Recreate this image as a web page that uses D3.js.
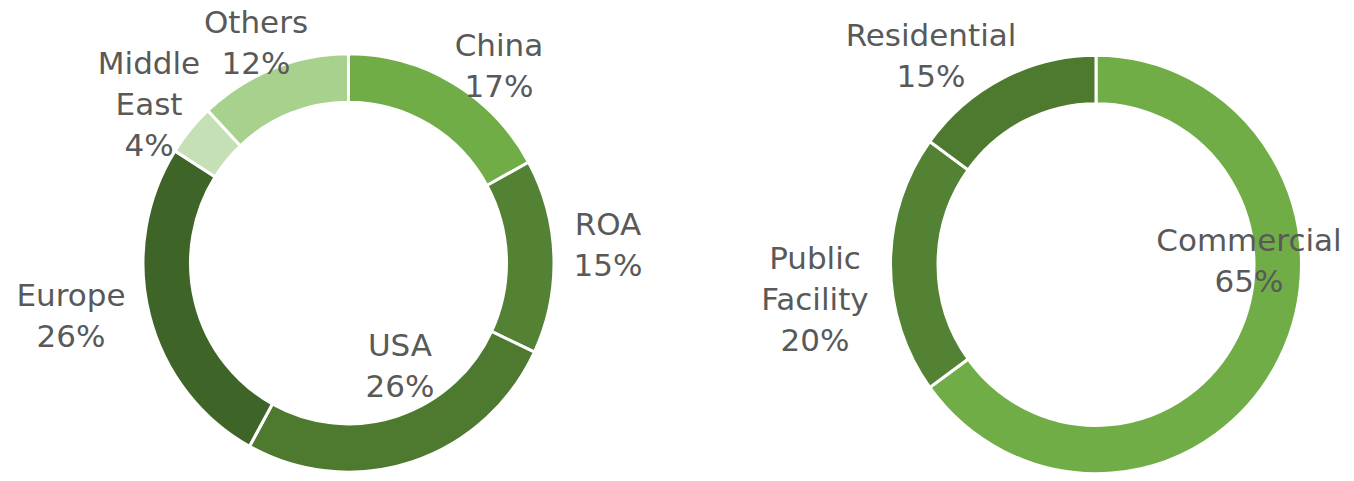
<!DOCTYPE html>
<html>
<head>
<meta charset="utf-8">
<script src="https://cdn.jsdelivr.net/npm/d3@7"></script>
<style>
  body { margin: 0; background: #fff; }
  svg { display: block; }
  .lbl { font-family: "DejaVu Sans", sans-serif; font-size: 31px; fill: #595959; }
</style>
</head>
<body>
<script>
    // region chart
    var regions = ["China", "ROA", "USA", "Europe", "Middle East", "Others"];
    var regionShare = [17, 15, 26, 26, 4, 12];
    var regionColors = ["#70ad47", "#548235", "#4e7a2f", "#3f6428", "#c5e0b4", "#a9d18e"];
    var regionLines = [["China"], ["ROA"], ["USA"], ["Europe"], ["Middle", "East"], ["Others"]];

    // segment chart
    var segments = ["Commercial", "Public Facility", "Residential"];
    var segmentShare = [65, 20, 15];
    var segmentColors = ["#70ad47", "#548235", "#4e7a2f"];
    var segmentLines = [["Commercial"], ["Public", "Facility"], ["Residential"]];

    var width = 1354, height = 481;
    var outerR = 205.5, innerR = 158;
    var lineH = 41;

    var svg = d3.select("body").append("svg")
      .attr("width", width)
      .attr("height", height);

    var pie = d3.pie().sort(null).value(function(d) { return d; });
    var arc = d3.arc().innerRadius(innerR).outerRadius(outerR);

    function drawDonut(cx, cy, values, colors, lines, offsets) {
      var g = svg.append("g")
        .attr("transform", "translate(" + cx + "," + cy + ")");

      //donut ring, slightly stretched vertically like the original
      g.append("g")
        .attr("transform", "scale(1,1.018)")
        .selectAll("path")
        .data(pie(values))
        .enter().append("path")
          .attr("d", arc)
          .attr("fill", function(d, i) { return colors[i]; })
          .attr("stroke", "#fff")
          .attr("stroke-width", 3);

      //labels: name lines then percentage
      var lbl = g.selectAll("text")
        .data(values)
        .enter().append("text")
          .attr("class", "lbl")
          .attr("text-anchor", "middle")
          .attr("x", function(d, i) { return offsets[i][0]; })
          .attr("y", function(d, i) { return offsets[i][1]; });

      lbl.each(function(d, i) {
        var t = d3.select(this);
        var rows = lines[i].concat([d + "%"]);
        rows.forEach(function(r, j) {
          t.append("tspan")
            .attr("x", offsets[i][0])
            .attr("dy", j === 0 ? 0 : lineH)
            .text(r);
        });
      });
    }

    // label anchors (first baseline), relative to each donut centre
    var regionLabelPos = [[150.5, -207], [259.5, -28], [51.5, 93], [-277.5, 43], [-199.5, -189], [-92.5, -230]];
    var segmentLabelPos = [[153, -13.5], [-281, 4], [-165, -218.5]];

    drawDonut(348.5, 263, regionShare, regionColors, regionLines, regionLabelPos);
    drawDonut(1096, 264.5, segmentShare, segmentColors, segmentLines, segmentLabelPos);
</script>
</body>
</html>
